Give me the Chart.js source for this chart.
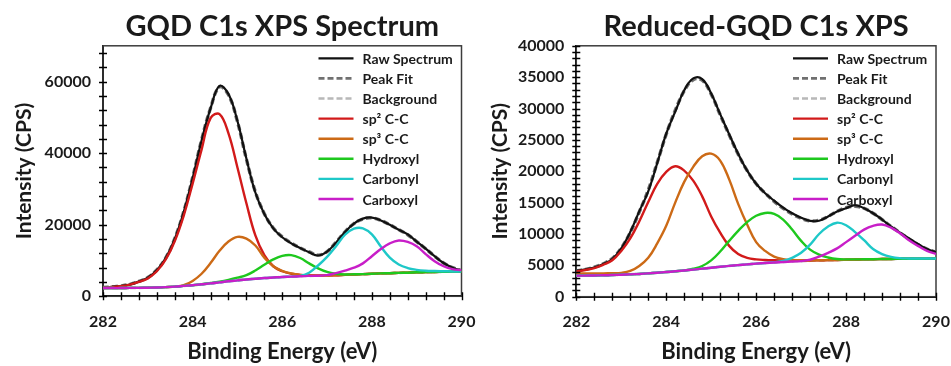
<!DOCTYPE html>
<html>
<head>
<meta charset="utf-8">
<script src="https://cdn.jsdelivr.net/npm/chart.js@4.4.1/dist/chart.umd.min.js"></script>
<style>
  html, body { margin: 0; padding: 0; background: #fff; }
  #wrap { position: relative; width: 951px; height: 366px; }
  .box { position: absolute; top: 0; height: 366px; }
</style>
</head>
<body>
<div id="wrap">
  <div class="box" style="left:0;width:476px"><canvas id="gqd" width="476" height="366"></canvas></div>
  <div class="box" style="left:476px;width:475px"><canvas id="rgqd" width="475" height="366"></canvas></div>
</div>
<script>
// binding energy grid (eV)
const energy = [282.0, 282.2, 282.4, 282.6, 282.8, 283.0, 283.2, 283.4, 283.6, 283.8,
                284.0, 284.2, 284.4, 284.6, 284.8, 285.0, 285.2, 285.4, 285.6, 285.8,
                286.0, 286.2, 286.4, 286.6, 286.8, 287.0, 287.2, 287.4, 287.6, 287.8,
                288.0, 288.2, 288.4, 288.6, 288.8, 289.0, 289.2, 289.4, 289.6, 289.8, 290.0];

const seriesNames = ['Raw Spectrum', 'Peak Fit', 'Background', 'sp\u00B2 C-C', 'sp\u00B3 C-C', 'Hydroxyl', 'Carbonyl', 'Carboxyl'];

// GQD (left)
const rawL = [2500, 2650, 2850, 3300, 4100, 5200, 7300, 10700, 16000, 23500,
              33000, 43500, 52500, 58800, 56500, 49000, 38500, 29000, 23000, 19000,
              16500, 14800, 13500, 12300, 11400, 12500, 15000, 18000, 20300, 21700,
              22000, 21200, 20000, 18600, 17300, 15300, 13300, 11200, 9300, 8000, 7200];
const fitL = [2450, 2650, 2900, 3350, 4150, 5250, 7350, 10750, 16100, 23600,
              33200, 43700, 52600, 58500, 56300, 48800, 38300, 29200, 23100, 19100,
              16600, 14900, 13500, 12400, 11500, 12500, 15100, 18000, 20300, 21600,
              21900, 21200, 20000, 18600, 17200, 15300, 13300, 11200, 9300, 8000, 7200];
const bgL = [2300, 2300, 2300, 2350, 2350, 2400, 2450, 2550, 2700, 2900,
             3100, 3350, 3600, 3900, 4200, 4450, 4700, 4900, 5100, 5250,
             5400, 5500, 5600, 5700, 5750, 5800, 5900, 6000, 6100, 6200,
             6300, 6400, 6450, 6550, 6600, 6700, 6750, 6800, 6850, 6900, 6950];
const sp2L = [2450, 2600, 2800, 3250, 4000, 5000, 7000, 10300, 15400, 22500,
              31500, 41000, 49800, 50900, 45500, 36000, 26000, 17000, 11500, 8400,
              7000, 6300, 6000, 5900, 5850, 5850, 5900, 6000, 6100, 6200,
              6300, 6400, 6450, 6550, 6600, 6700, 6750, 6800, 6850, 6900, 6950];
const sp3L = [2300, 2300, 2300, 2350, 2350, 2400, 2450, 2550, 2700, 3100,
              4300, 6300, 9300, 12700, 15300, 16600, 16100, 14200, 10800, 8400,
              7100, 6400, 6000, 5850, 5800, 5800, 5900, 6000, 6100, 6200,
              6300, 6400, 6450, 6550, 6600, 6700, 6750, 6800, 6850, 6900, 6950];
const hydroxylL = [2300, 2300, 2300, 2350, 2350, 2400, 2450, 2550, 2700, 2900,
                   3100, 3350, 3700, 4100, 4600, 5200, 5900, 7200, 8800, 10300,
                   11300, 11500, 10700, 9200, 7800, 6800, 6300, 6100, 6150, 6200,
                   6300, 6400, 6450, 6550, 6600, 6700, 6750, 6800, 6850, 6900, 6950];
const carbonylL = [2300, 2300, 2300, 2350, 2350, 2400, 2450, 2550, 2700, 2900,
                   3100, 3350, 3600, 3900, 4200, 4450, 4700, 4900, 5100, 5250,
                   5400, 5500, 5700, 6600, 8600, 11000, 14000, 17200, 18900, 19000,
                   17300, 13900, 10800, 8900, 7900, 7400, 7150, 7050, 7000, 6950, 6950];
const carboxylL = [2300, 2300, 2300, 2350, 2350, 2400, 2450, 2550, 2700, 2900,
                   3100, 3350, 3600, 3900, 4200, 4450, 4700, 4900, 5100, 5250,
                   5400, 5500, 5600, 5700, 5750, 5900, 6500, 7200, 8000, 9200,
                   11200, 13200, 14800, 15600, 15200, 14000, 11800, 9800, 8400, 7600, 7300];

// Reduced-GQD (right)
const rawR = [4150, 4350, 4650, 5200, 6000, 7700, 10300, 13600, 16800, 21300,
              26000, 29500, 32900, 34800, 34700, 32400, 29100, 25900, 22800, 20100,
              18000, 16500, 15300, 14200, 13300, 12600, 12100, 12100, 12800, 13600,
              14100, 14600, 14100, 13300, 12300, 11200, 10200, 9300, 8400, 7600, 7100];
const fitR = [4100, 4350, 4700, 5250, 6100, 7750, 10250, 13500, 17000, 21400,
              25900, 29700, 32800, 34600, 34500, 32300, 29000, 25800, 22700, 20100,
              18000, 16500, 15200, 14100, 13200, 12500, 12100, 12200, 12800, 13600,
              14200, 14400, 14100, 13300, 12300, 11200, 10200, 9200, 8300, 7600, 7100];
const bgR = [3350, 3360, 3380, 3410, 3450, 3500, 3560, 3630, 3720, 3820,
             3930, 4050, 4180, 4320, 4470, 4620, 4770, 4910, 5040, 5160,
             5270, 5370, 5460, 5540, 5610, 5670, 5720, 5770, 5810, 5850,
             5890, 5920, 5950, 5980, 6000, 6020, 6040, 6050, 6060, 6070, 6080];
const sp2R = [4000, 4250, 4550, 5100, 5800, 7300, 9300, 12000, 15100, 18000,
              19900, 20800, 20100, 18500, 16000, 12800, 10200, 8100, 6800, 6200,
              5950, 5850, 5800, 5780, 5770, 5770, 5780, 5800, 5830, 5860,
              5890, 5920, 5950, 5980, 6000, 6020, 6040, 6050, 6060, 6070, 6080];
const sp3R = [3700, 3700, 3700, 3720, 3750, 3800, 4100, 4900, 6200, 8500,
              11300, 15000, 18300, 20700, 22400, 22800, 21700, 18700, 14800, 11500,
              8700, 7300, 6400, 6000, 5850, 5800, 5800, 5810, 5830, 5860,
              5890, 5920, 5950, 5980, 6000, 6020, 6040, 6050, 6060, 6070, 6080];
const hydroxylR = [3350, 3360, 3380, 3410, 3450, 3500, 3560, 3630, 3720, 3820,
                   3930, 4050, 4180, 4450, 4900, 5800, 7200, 8900, 10500, 11900,
                   12900, 13350, 13200, 12300, 10700, 8900, 7500, 6700, 6250, 6000,
                   5950, 5950, 5960, 5980, 6000, 6020, 6040, 6050, 6060, 6070, 6080];
const carbonylR = [3350, 3360, 3380, 3410, 3450, 3500, 3560, 3630, 3720, 3820,
                   3930, 4050, 4180, 4320, 4470, 4620, 4770, 4910, 5040, 5160,
                   5270, 5370, 5500, 5700, 6200, 7000, 8300, 10000, 11200, 11800,
                   11400, 10300, 9000, 7600, 6800, 6350, 6150, 6100, 6080, 6080, 6080];
const carboxylR = [3350, 3360, 3380, 3410, 3450, 3500, 3560, 3630, 3720, 3820,
                   3930, 4050, 4180, 4320, 4470, 4620, 4770, 4910, 5040, 5160,
                   5270, 5370, 5460, 5540, 5610, 5670, 5900, 6400, 7000, 7700,
                   8700, 9700, 10700, 11300, 11500, 11000, 10100, 9000, 8100, 7300, 6800];

const FONT = 'Lato';
const TXT = '#1a1a1a';

// line look per series (same order as seriesNames)
const lineStyle = [
    { color: '#111111', width: 2.2, dash: [],     order: 7 },
    { color: '#707070', width: 3.4, dash: [6, 3], order: 8 },
    { color: '#b8b8b8', width: 2.6, dash: [6, 3], order: 9 },
    { color: '#d21a1a', width: 2.4, dash: [],     order: 6 },
    { color: '#cc6a16', width: 2.4, dash: [],     order: 5 },
    { color: '#1ec81e', width: 2.4, dash: [],     order: 4 },
    { color: '#1ec8c8', width: 2.4, dash: [],     order: 3 },
    { color: '#c81ec8', width: 2.4, dash: [],     order: 2 }
];

function isMultiple(v, m) {
    return Math.abs(v / m - Math.round(v / m)) < 1e-6;
}

const frameTicks = {
    id: 'frameTicks',
    beforeDatasetsDraw(chart) {
        const { ctx, chartArea: a } = chart;
        ctx.save();
        ctx.strokeStyle = '#3c3c3c';
        ctx.lineWidth = 1.5;
        ctx.strokeRect(a.left, a.top, a.right - a.left, a.bottom - a.top);
        ctx.restore();
    },
    afterDatasetsDraw(chart) {
        const { ctx, chartArea: a, scales } = chart;
        ctx.save();
        ctx.strokeStyle = '#000';
        ctx.lineWidth = 1.4;
        ctx.beginPath();
        scales.x.ticks.forEach(t => {
            const px = Math.round(scales.x.getPixelForValue(t.value)) + 0.5;
            ctx.moveTo(px, a.bottom - 4);
            ctx.lineTo(px, a.bottom + 4);
        });
        scales.y.ticks.forEach(t => {
            const py = Math.round(scales.y.getPixelForValue(t.value)) + 0.5;
            ctx.moveTo(a.left - 4, py);
            ctx.lineTo(a.left + 4, py);
        });
        ctx.stroke();
        ctx.restore();
    }
};

const insideLegend = {
    id: 'insideLegend',
    afterDatasetsDraw(chart) {
        const { ctx, chartArea: a } = chart;
        const x0 = a.right - 143;
        const y0 = a.top + 12.5;
        ctx.save();
        ctx.font = 'bold 14px ' + FONT;
        ctx.textBaseline = 'middle';
        ctx.textAlign = 'left';
        chart.data.datasets.forEach((ds, i) => {
            const y = y0 + i * 20.1;
            ctx.strokeStyle = ds.borderColor;
            ctx.lineWidth = Math.min(ds.borderWidth, 2.6);
            ctx.setLineDash(ds.borderDash);
            ctx.beginPath();
            ctx.moveTo(x0, y);
            ctx.lineTo(x0 + 35, y);
            ctx.stroke();
            ctx.setLineDash([]);
            ctx.fillStyle = TXT;
            ctx.fillText(ds.label, x0 + 44, y + 1);
        });
        ctx.restore();
    }
};

function buildChart(id, opts) {
    const datasets = opts.series.map((vals, i) => ({
        label: seriesNames[i],
        data: energy.map((e, k) => ({ x: e, y: vals[k] })),
        borderColor: lineStyle[i].color,
        borderWidth: lineStyle[i].width,
        borderDash: lineStyle[i].dash,
        order: lineStyle[i].order,
        pointRadius: 0,
        tension: 0.4,
        fill: false
    }));

    return new Chart(document.getElementById(id), {
        type: 'line',
        data: { datasets: datasets },
        plugins: [frameTicks, insideLegend],
        options: {
            responsive: false,
            animation: false,
            devicePixelRatio: 1,
            layout: { padding: { left: 0, right: opts.padRight, top: 0, bottom: 0 } },
            plugins: {
                legend: { display: false },
                tooltip: { enabled: false },
                title: {
                    display: true,
                    text: opts.title,
                    fullSize: false,
                    color: TXT,
                    font: { family: FONT, size: 29, weight: 'bold' },
                    padding: { top: 9, bottom: 2 }
                }
            },
            scales: {
                x: {
                    type: 'linear',
                    min: 282,
                    max: 290,
                    grid: { display: false },
                    border: { display: true, color: '#000', width: 2 },
                    ticks: {
                        stepSize: 0.4,
                        autoSkip: false,
                        maxRotation: 0,
                        includeBounds: false,
                        padding: 8,
                        color: TXT,
                        font: { family: FONT, size: 16, weight: 'bold' },
                        callback: v => isMultiple(v, 2) ? String(Math.round(v)) : ''
                    },
                    title: {
                        display: true,
                        text: 'Binding Energy (eV)',
                        color: TXT,
                        font: { family: FONT, size: 22, weight: 'bold' },
                        padding: { top: 0, bottom: 1 }
                    },
                    afterFit: s => {
                        s.height = opts.xHeight;
                        s.paddingLeft = 0;
                        s.paddingRight = 0;
                    }
                },
                y: {
                    min: 0,
                    max: opts.yMax,
                    grid: { display: false },
                    border: { display: true, color: '#000', width: 2 },
                    afterBuildTicks: s => {
                        const t = [];
                        for (let v = 0; v <= opts.yMax; v += opts.yMinor) t.push({ value: v });
                        s.ticks = t;
                    },
                    ticks: {
                        autoSkip: false,
                        padding: 4,
                        color: TXT,
                        font: { family: FONT, size: 16, weight: 'bold' },
                        callback: v => isMultiple(v, opts.yMajor) ? String(v) : ''
                    },
                    title: {
                        display: true,
                        text: 'Intensity (CPS)',
                        color: TXT,
                        font: { family: FONT, size: 21, weight: 'bold' },
                        padding: { top: 11.5, bottom: 0 }
                    },
                    afterFit: s => {
                        s.width = opts.yWidth;
                        s.paddingTop = 0;
                        s.paddingBottom = 0;
                    }
                }
            }
        }
    });
}

buildChart('gqd', {
    title: 'GQD C1s XPS Spectrum',
    series: [rawL, fitL, bgL, sp2L, sp3L, hydroxylL, carbonylL, carboxylL],
    yMax: 70000, yMinor: 4000, yMajor: 20000,
    yWidth: 103, padRight: 14.5, xHeight: 69.7
});

buildChart('rgqd', {
    title: 'Reduced-GQD C1s XPS',
    series: [rawR, fitR, bgR, sp2R, sp3R, hydroxylR, carbonylR, carboxylR],
    yMax: 40000, yMinor: 1000, yMajor: 5000,
    yWidth: 100.3, padRight: 15, xHeight: 69.3
});
</script>
</body>
</html>
